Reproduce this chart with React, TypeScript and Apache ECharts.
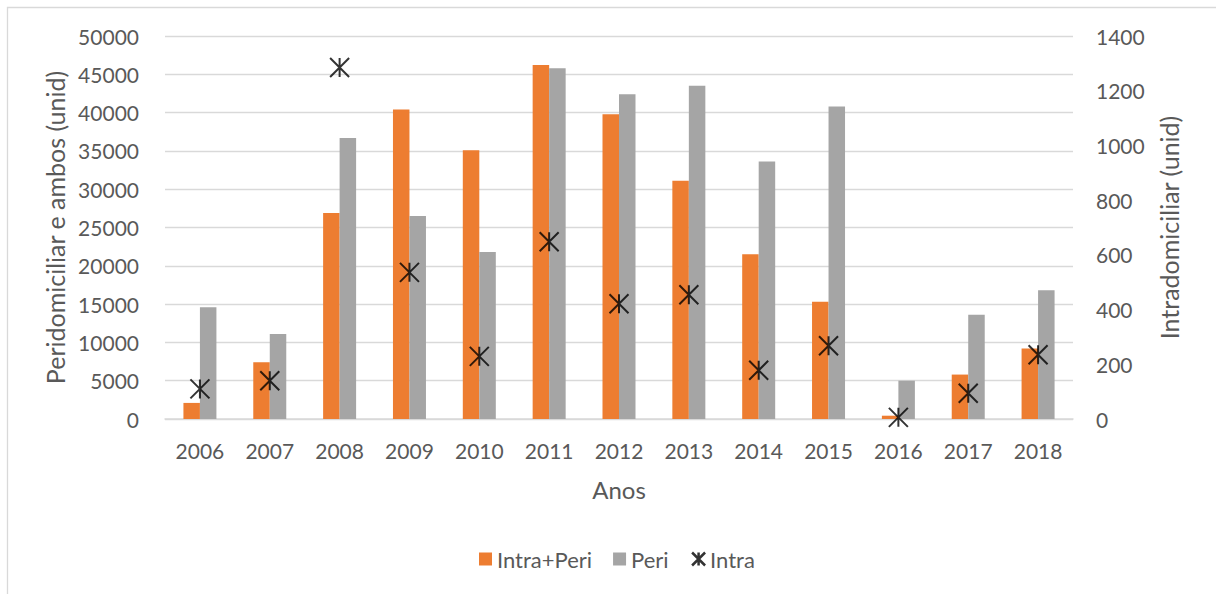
import React, { useEffect, useRef } from "react";
import * as echarts from "echarts";

// Yearly counts
const years = ["2006", "2007", "2008", "2009", "2010", "2011", "2012", "2013", "2014", "2015", "2016", "2017", "2018"];
const intraPeri = [2100, 7400, 26900, 40400, 35100, 46200, 39800, 31100, 21500, 15300, 430, 5800, 9200];
const peri = [14600, 11100, 36700, 26500, 21800, 45800, 42400, 43500, 33600, 40800, 5000, 13600, 16800];
const intra = [110, 140, 1285, 536, 229, 648, 421, 454, 178, 268, 6, 94, 235];

const leftTicks = { min: 0, max: 50000, interval: 5000 };
const rightTicks = { min: 0, max: 1400, interval: 200 };

const FONT = "Lato";
const TEXT = "#595959";
const GRID = "#d9d9d9";
const STAR = "path://M0 0L20 20M20 0L0 20M10 0L10 20";
const plain = (v: number) => String(v);

export default function App() {
  const ref = useRef<HTMLDivElement>(null);

  useEffect(() => {
    if (!ref.current) return;
    const chart = echarts.init(ref.current, undefined, { renderer: "svg" });
    chart.setOption({
      animation: false,
      backgroundColor: "#ffffff",
      textStyle: { fontFamily: FONT, color: TEXT },
      graphic: [
        {
          type: "rect",
          shape: { x: 7.5, y: 7.5, width: 1300, height: 700 },
          style: { fill: "none", stroke: GRID, lineWidth: 1.3 },
          silent: true,
        },
      ],
      grid: { left: 165, right: 143, top: 36, bottom: 175, containLabel: false },
      legend: {
        bottom: 19,
        left: 474,
        itemWidth: 13,
        itemHeight: 13,
        itemGap: 21,
        textStyle: { fontFamily: FONT, fontSize: 22, color: TEXT },
        data: [
          { name: "Intra+Peri", icon: "rect" },
          { name: "Peri", icon: "rect" },
          { name: "Intra", icon: STAR, itemStyle: { color: "none", borderColor: "#000", borderWidth: 2.5 } },
        ],
      },
      xAxis: {
        type: "category",
        data: years,
        name: "Anos",
        nameLocation: "middle",
        nameGap: 58,
        nameTextStyle: { fontFamily: FONT, fontSize: 24, color: TEXT },
        axisTick: { show: false },
        axisLine: { lineStyle: { color: GRID, width: 1.5 } },
        axisLabel: { margin: 21, fontFamily: FONT, fontSize: 21, color: TEXT },
      },
      yAxis: [
        {
          type: "value",
          ...leftTicks,
          name: "Peridomiciliar e ambos (unid)",
          nameLocation: "middle",
          nameGap: 95,
          nameTextStyle: { fontFamily: FONT, fontSize: 25, color: TEXT },
          axisLine: { show: false },
          axisTick: { show: false },
          axisLabel: { margin: 26, fontFamily: FONT, fontSize: 21, color: TEXT, formatter: plain },
          splitLine: { lineStyle: { color: GRID, width: 1.3 } },
        },
        {
          type: "value",
          ...rightTicks,
          name: "Intradomiciliar (unid)",
          nameLocation: "middle",
          nameGap: 83,
          nameTextStyle: { fontFamily: FONT, fontSize: 25, color: TEXT },
          axisLine: { show: false },
          axisTick: { show: false },
          axisLabel: { margin: 23, fontFamily: FONT, fontSize: 21, color: TEXT, formatter: plain },
          splitLine: { show: false },
        },
      ],
      series: [
        {
          name: "Intra+Peri",
          type: "bar",
          data: intraPeri,
          barWidth: 16.5,
          barGap: "0%",
          itemStyle: { color: "#ED7D31" },
        },
        {
          name: "Peri",
          type: "bar",
          data: peri,
          barWidth: 16.5,
          barGap: "0%",
          itemStyle: { color: "#A5A5A5" },
        },
        {
          name: "Intra",
          type: "scatter",
          yAxisIndex: 1,
          data: intra,
          symbol: STAR,
          symbolSize: 19,
          itemStyle: { color: "none", borderColor: "#000", borderWidth: 2 },
          z: 5,
        },
      ],
    });
    return () => chart.dispose();
  }, []);

  return (
    <div
      ref={ref}
      style={{ position: "absolute", left: 0, top: 0, width: 1216, height: 594 }}
    />
  );
}
